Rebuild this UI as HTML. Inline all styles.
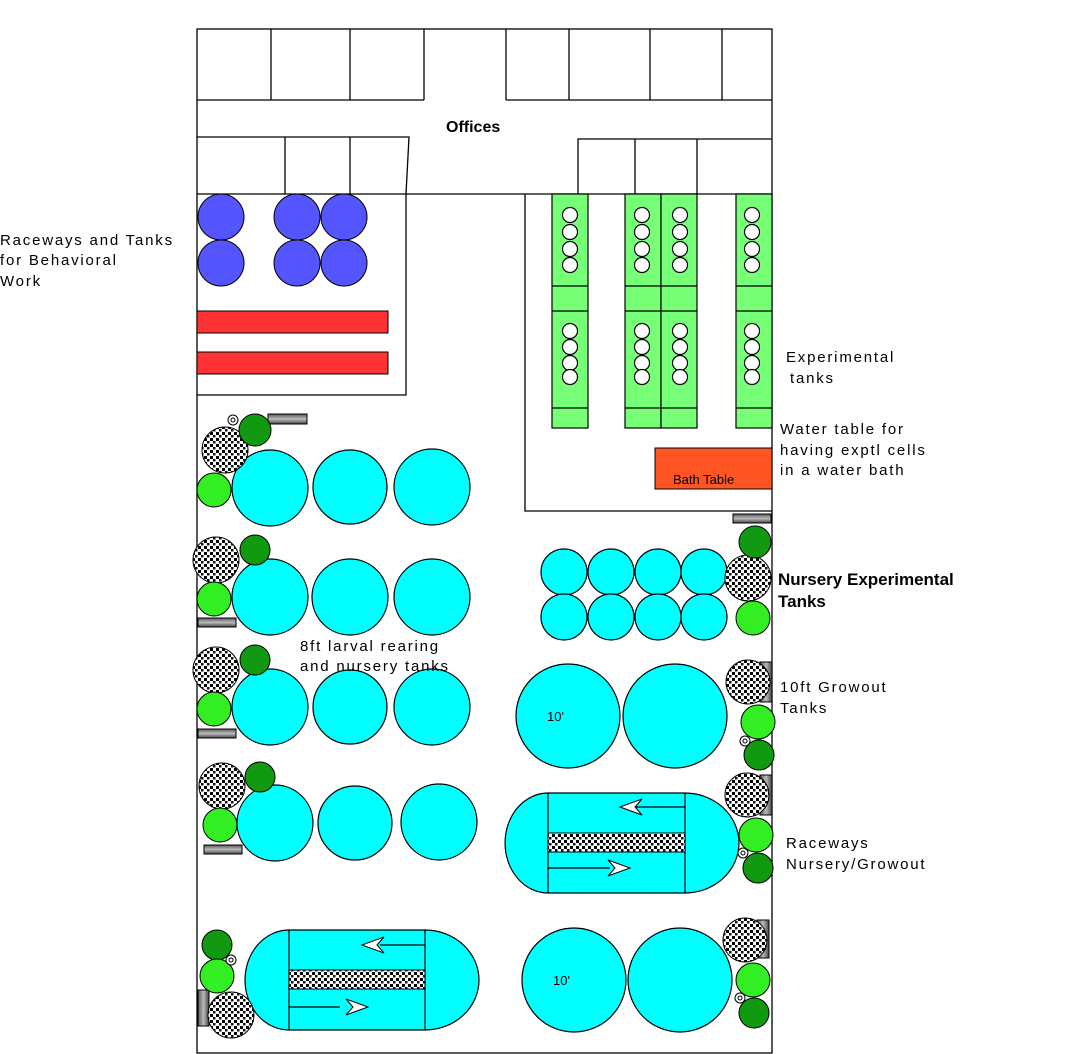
<!DOCTYPE html>
<html><head><style>body{margin:0;background:#fff}svg{display:block}text{font-family:"Liberation Sans",sans-serif}</style></head><body>
<svg width="1089" height="1054" viewBox="0 0 1089 1054">
<defs>
<pattern id="st" width="6" height="6" patternUnits="userSpaceOnUse"><rect width="6" height="6" fill="#fff"/><rect x="0" y="0" width="3" height="3" fill="#000"/><rect x="3" y="3" width="2.5" height="2.5" fill="#111"/></pattern>
<linearGradient id="gb" x1="0" y1="0" x2="0" y2="1"><stop offset="0" stop-color="#555"/><stop offset=".5" stop-color="#bbb"/><stop offset="1" stop-color="#444"/></linearGradient>
<linearGradient id="gv" x1="0" y1="0" x2="1" y2="0"><stop offset="0" stop-color="#555"/><stop offset=".5" stop-color="#bbb"/><stop offset="1" stop-color="#444"/></linearGradient>
<g id="cc"><circle cx="0" cy="215" r="7.5"/><circle cx="0" cy="232" r="7.5"/><circle cx="0" cy="249" r="7.5"/><circle cx="0" cy="265" r="7.5"/><circle cx="0" cy="331" r="7.5"/><circle cx="0" cy="347" r="7.5"/><circle cx="0" cy="363" r="7.5"/><circle cx="0" cy="377" r="7.5"/></g>
</defs>
<g fill="none" stroke="#000" stroke-width="1.3">
<rect x="197" y="29" width="575" height="1024"/>
<line x1="197" y1="100" x2="424" y2="100"/><line x1="506" y1="100" x2="772" y2="100"/>
<line x1="271" y1="29" x2="271" y2="100"/><line x1="350" y1="29" x2="350" y2="100"/><line x1="424" y1="29" x2="424" y2="100"/>
<line x1="506" y1="29" x2="506" y2="100"/><line x1="569" y1="29" x2="569" y2="100"/><line x1="650" y1="29" x2="650" y2="100"/><line x1="722" y1="29" x2="722" y2="100"/>
<polyline points="197,137 409,137 406,194"/>
<line x1="285" y1="137" x2="285" y2="194"/><line x1="350" y1="137" x2="350" y2="194"/>
<polyline points="578,194 578,139 772,139"/>
<line x1="635" y1="139" x2="635" y2="194"/><line x1="697" y1="139" x2="697" y2="194"/>
<line x1="197" y1="194" x2="772" y2="194"/>
<polyline points="406,194 406,395 197,395"/>
<polyline points="525,194 525,511 772,511"/>
</g>
<text x="446" y="132" font-size="16" font-weight="bold">Offices</text>
<g fill="#5555ff" stroke="#000" stroke-width="1">
<circle cx="221" cy="217" r="23"/><circle cx="297" cy="217" r="23"/><circle cx="344" cy="217" r="23"/>
<circle cx="221" cy="263" r="23"/><circle cx="297" cy="263" r="23"/><circle cx="344" cy="263" r="23"/>
</g>
<g fill="#ff3333" stroke="#000" stroke-width="1"><rect x="197" y="311" width="191" height="22"/><rect x="197" y="352" width="191" height="22"/></g>
<g stroke="#000" stroke-width="1.2">
<g fill="#77ff77">
<rect x="552" y="194" width="36" height="234"/><rect x="625" y="194" width="36" height="234"/><rect x="661" y="194" width="36" height="234"/><rect x="736" y="194" width="36" height="234"/>
</g>
<path fill="none" d="M552 286H588M552 311H588M552 408H588M625 286H697M625 311H697M625 408H697M736 286H772M736 311H772M736 408H772"/>
</g>
<use href="#cc" x="570" fill="#fff" stroke="#000" stroke-width="1.2"/><use href="#cc" x="642" fill="#fff" stroke="#000" stroke-width="1.2"/><use href="#cc" x="680" fill="#fff" stroke="#000" stroke-width="1.2"/><use href="#cc" x="752" fill="#fff" stroke="#000" stroke-width="1.2"/>
<rect x="655" y="448" width="117" height="41" fill="#ff5522" stroke="#000"/>
<text x="673" y="484" font-size="13">Bath Table</text>
<g fill="#00ffff" stroke="#000" stroke-width="1.2">
<circle cx="270" cy="488" r="38"/><circle cx="350" cy="487" r="37"/><circle cx="432" cy="487" r="38"/>
<circle cx="270" cy="597" r="38"/><circle cx="350" cy="597" r="38"/><circle cx="432" cy="597" r="38"/>
<circle cx="270" cy="707" r="38"/><circle cx="350" cy="707" r="37"/><circle cx="432" cy="707" r="38"/>
<circle cx="275" cy="823" r="38"/><circle cx="355" cy="823" r="37"/><circle cx="439" cy="822" r="38"/>
<circle cx="564" cy="572" r="23"/><circle cx="611" cy="572" r="23"/><circle cx="658" cy="572" r="23"/><circle cx="704" cy="572" r="23"/>
<circle cx="564" cy="617" r="23"/><circle cx="611" cy="617" r="23"/><circle cx="658" cy="617" r="23"/><circle cx="704" cy="617" r="23"/>
<circle cx="568" cy="716" r="52"/><circle cx="675" cy="716" r="52"/>
<circle cx="574" cy="980" r="52"/><circle cx="680" cy="980" r="52"/>
<path d="M548 793H685A54 50 0 0 1 685 893H548A43 50 0 0 1 548 793Z"/>
<path d="M289 930H425A54 50 0 0 1 425 1030H289A44 50 0 0 1 289 930Z"/>
</g>
<g stroke="#000" stroke-width="1.2" fill="none">
<path d="M548 793V893M685 793V893M289 930V1030M425 930V1030"/>
<path d="M685 807H635M548 868H610M425 945H380M289 1007H340"/>
</g>
<g fill="url(#st)" stroke="#000"><rect x="548" y="833" width="137" height="19"/><rect x="289" y="970" width="136" height="19"/></g>
<g fill="#fff" stroke="#000"><path d="M620 807L642 799L635 807L642 815Z"/><path d="M630 868L608 860L615 868L608 876Z"/><path d="M362 945L384 937L377 945L384 953Z"/><path d="M368 1007L346 999L353 1007L346 1015Z"/></g>
<text x="547" y="721" font-size="13">10'</text><text x="553" y="985" font-size="13">10'</text>
<g stroke="#000" stroke-width="1">
<g fill="url(#gb)"><rect x="268" y="414" width="39" height="10"/><rect x="198" y="618" width="38" height="9"/><rect x="198" y="729" width="38" height="9"/><rect x="204" y="845" width="38" height="9"/><rect x="733" y="514" width="38" height="9"/></g>
<g fill="url(#gv)"><rect x="198" y="990" width="11" height="36"/><rect x="760" y="662" width="12" height="40"/><rect x="760" y="775" width="12" height="40"/><rect x="757" y="920" width="12" height="38"/></g>
<g fill="url(#st)"><circle cx="225" cy="450" r="23"/><circle cx="216" cy="560" r="23"/><circle cx="216" cy="670" r="23"/><circle cx="222" cy="786" r="23"/><circle cx="231" cy="1015" r="23"/><circle cx="748" cy="578" r="23"/><circle cx="748" cy="682" r="22"/><circle cx="747" cy="795" r="22"/><circle cx="745" cy="940" r="22"/></g>
<g fill="#119911"><circle cx="255" cy="430" r="16"/><circle cx="255" cy="550" r="15"/><circle cx="255" cy="660" r="15"/><circle cx="260" cy="777" r="15"/><circle cx="217" cy="945" r="15"/><circle cx="755" cy="542" r="16"/><circle cx="759" cy="755" r="15"/><circle cx="758" cy="868" r="15"/><circle cx="754" cy="1013" r="15"/></g>
<g fill="#33ee22"><circle cx="214" cy="490" r="17"/><circle cx="214" cy="599" r="17"/><circle cx="214" cy="709" r="17"/><circle cx="220" cy="825" r="17"/><circle cx="217" cy="976" r="17"/><circle cx="753" cy="618" r="17"/><circle cx="758" cy="722" r="17"/><circle cx="756" cy="835" r="17"/><circle cx="753" cy="980" r="17"/></g>
<g fill="#fff"><circle cx="233" cy="420" r="5"/><circle cx="231" cy="960" r="5"/><circle cx="745" cy="741" r="5"/><circle cx="743" cy="853" r="5"/><circle cx="740" cy="998" r="5"/></g>
<g fill="none"><circle cx="233" cy="420" r="2"/><circle cx="231" cy="960" r="2"/><circle cx="745" cy="741" r="2"/><circle cx="743" cy="853" r="2"/><circle cx="740" cy="998" r="2"/></g>
</g>
<g font-size="15" letter-spacing="1.8">
<text x="0" y="245">Raceways and Tanks</text><text x="0" y="265">for Behavioral</text><text x="0" y="286">Work</text>
<text x="786" y="362">Experimental</text><text x="790" y="383">tanks</text>
<text x="780" y="434">Water table for</text><text x="780" y="455">having exptl cells</text><text x="780" y="475">in a water bath</text>
<text x="300" y="651">8ft larval rearing</text><text x="300" y="671">and nursery tanks</text>
<text x="780" y="692">10ft Growout</text><text x="780" y="713">Tanks</text>
<text x="786" y="848">Raceways</text><text x="786" y="869">Nursery/Growout</text>
</g>
<g font-size="17" font-weight="bold"><text x="778" y="585">Nursery Experimental</text><text x="778" y="607">Tanks</text></g>
</svg>
</body></html>
